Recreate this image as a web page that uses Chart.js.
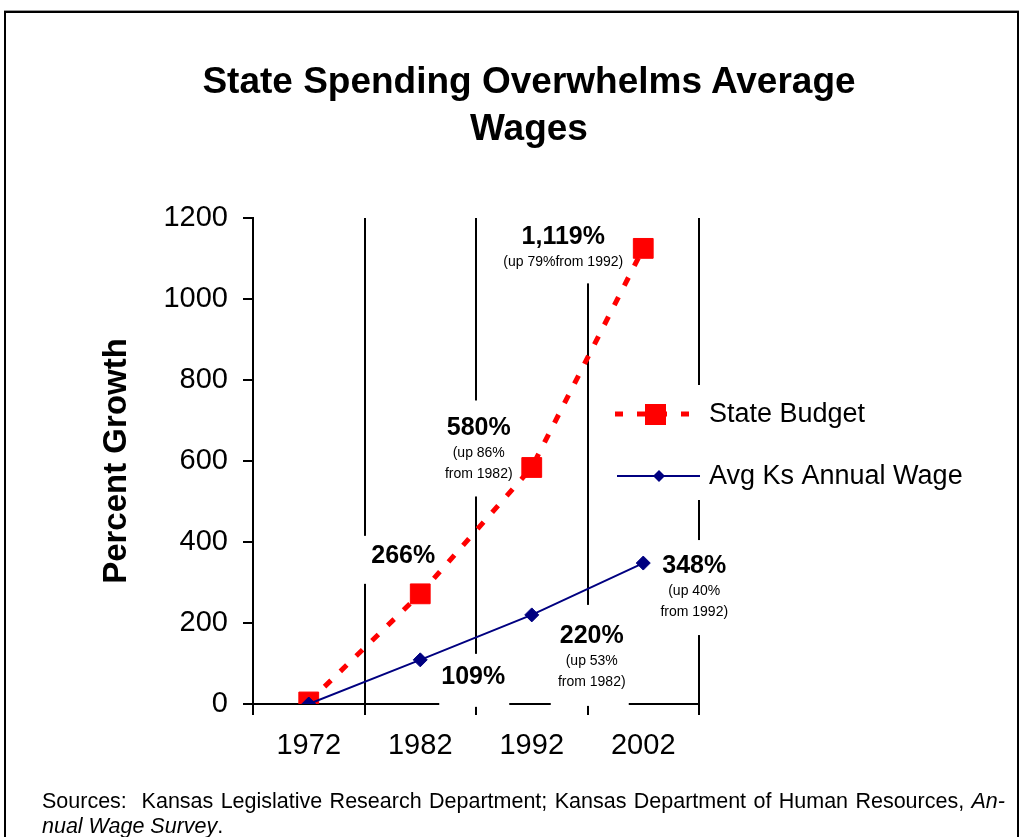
<!DOCTYPE html>
<html>
<head>
<meta charset="utf-8">
<script src="https://cdn.jsdelivr.net/npm/chart.js@4.4.1/dist/chart.umd.min.js"></script>
<style>
  body { margin: 0; background: #fff; font-family: "Liberation Sans", Arial, sans-serif; }
  #wrap { position: relative; width: 1022px; height: 837px; overflow: hidden; }
  #frame { position: absolute; left: 4px; top: 11px; width: 1011px; height: 900px; border: 2px solid #000; box-shadow: 0 -1px 0 #999; }
  #title { position: absolute; left: 0; width: 1058px; top: 57px; text-align: center; font-weight: bold; font-size: 37px; line-height: 47px; color: #000; }
  #src1 { position: absolute; left: 42px; width: 963px; top: 789px; font-size: 21.5px; text-align: justify; text-align-last: justify; color: #000; white-space: nowrap; }
  #src2 { position: absolute; left: 42px; top: 814px; font-size: 21.5px; color: #000; }
  canvas { position: absolute; left: 0; top: 0; }
</style>
</head>
<body>
<div id="wrap">
  <div id="frame"></div>
  <canvas id="myChart" width="1022" height="837"></canvas>
  <div id="title">State Spending Overwhelms Average<br>Wages</div>
  <div id="src1">Sources:&nbsp; Kansas Legislative Research Department; Kansas Department of Human Resources, <i>An-</i></div>
  <div id="src2"><i>nual Wage Survey</i>.</div>
</div>
<script>
// donnees
const years = ['1972', '1982', '1992', '2002'];
const stateBudget = [5, 272, 584, 1125];
const avgWage = [0, 109, 220, 348];
const yMin = 0, yMax = 1200, yStep = 200;

// etiquettes des points
const budgetLabels = ['', '266%', '580%', '1,119%'];
const budgetNotes = [[], [], ['(up 86%', 'from 1982)'], ['(up 79%from 1992)']];
const wageLabels = ['', '109%', '220%', '348%'];
const wageNotes = [[], [], ['(up 53%', 'from 1982)'], ['(up 40%', 'from 1992)']];

// placement des etiquettes par rapport au point (dx, dy du texte ; boite blanche x, y, w, h)
const notePlacement = [
  {ds: 0, i: 1, dx: -17, dy: -38, box: [-65, -58, 85, 48]},
  {ds: 0, i: 2, dx: -53, dy: -39, box: [-92, -67, 75, 96]},
  {ds: 0, i: 3, dx: -80, dy: -11, box: [-147, -34, 130, 69]},
  {ds: 1, i: 1, dx: 53, dy: 17, box: [19, -6, 70, 53]},
  {ds: 1, i: 2, dx: 60, dy: 21, box: [19, -10, 78, 101]},
  {ds: 1, i: 3, dx: 51, dy: 3, box: [11, -23, 80, 95]}
];

const annotations = {
  id: 'annotations',
  beforeDatasetsDraw(chart) {
    const ctx = chart.ctx;
    ctx.save();
    notePlacement.forEach(n => {
      const pt = chart.getDatasetMeta(n.ds).data[n.i];
      const label = n.ds === 0 ? budgetLabels[n.i] : wageLabels[n.i];
      const notes = n.ds === 0 ? budgetNotes[n.i] : wageNotes[n.i];
      ctx.fillStyle = '#fff';
      ctx.fillRect(pt.x + n.box[0], pt.y + n.box[1], n.box[2], n.box[3]);
      ctx.fillStyle = '#000';
      ctx.textAlign = 'center';
      ctx.textBaseline = 'middle';
      ctx.font = 'bold 25px "Liberation Sans", Arial, sans-serif';
      ctx.fillText(label, pt.x + n.dx, pt.y + n.dy);
      ctx.font = '14px "Liberation Sans", Arial, sans-serif';
      notes.forEach((t, k) => {
        ctx.fillText(t, pt.x + n.dx, pt.y + n.dy + 25 + k * 21);
      });
    });

    // legende dans le graphique
    ctx.fillStyle = '#fff';
    ctx.fillRect(600, 385, 400, 115);
    ctx.strokeStyle = '#ff0000';
    ctx.lineWidth = 5;
    ctx.setLineDash([8, 14]);
    ctx.beginPath();
    ctx.moveTo(615, 414);
    ctx.lineTo(694, 414);
    ctx.stroke();
    ctx.setLineDash([]);
    ctx.fillStyle = '#ff0000';
    ctx.fillRect(645, 404, 21, 21);
    ctx.strokeStyle = '#000080';
    ctx.lineWidth = 2;
    ctx.beginPath();
    ctx.moveTo(617, 476);
    ctx.lineTo(700, 476);
    ctx.stroke();
    ctx.fillStyle = '#000080';
    ctx.beginPath();
    ctx.moveTo(659, 470);
    ctx.lineTo(665, 476);
    ctx.lineTo(659, 482);
    ctx.lineTo(653, 476);
    ctx.closePath();
    ctx.fill();
    ctx.fillStyle = '#000';
    ctx.textAlign = 'left';
    ctx.textBaseline = 'middle';
    ctx.font = '27px "Liberation Sans", Arial, sans-serif';
    ctx.fillText('State Budget', 709, 415);
    ctx.fillText('Avg Ks Annual Wage', 709, 477);
    ctx.restore();
  }
};

const ctx = document.getElementById('myChart');
new Chart(ctx, {
  type: 'line',
  data: {
    labels: years,
    datasets: [{
      label: 'State Budget',
      data: stateBudget,
      borderColor: '#ff0000',
      backgroundColor: '#ff0000',
      borderWidth: 5,
      borderDash: [9, 13],
      pointStyle: 'rect',
      pointRadius: 14,
      pointBorderWidth: 1,
      tension: 0,
      order: 1
    }, {
      label: 'Avg Ks Annual Wage',
      data: avgWage,
      borderColor: '#000080',
      backgroundColor: '#000080',
      borderWidth: 2,
      pointStyle: 'rectRot',
      pointRadius: 7,
      pointBorderWidth: 1,
      tension: 0,
      order: 0
    }]
  },
  options: {
    responsive: false,
    animation: false,
    devicePixelRatio: 1,
    layout: { padding: { left: 0, top: 218, right: 323, bottom: 0 } },
    plugins: {
      legend: { display: false },
      tooltip: { enabled: false }
    },
    scales: {
      x: {
        offset: true,
        grid: { offset: true, color: '#000', lineWidth: 2, tickLength: 11, drawTicks: true },
        border: { display: true, color: '#000', width: 2 },
        ticks: { color: '#000', font: { size: 29, family: '"Liberation Sans", Arial' }, padding: 14 },
        afterFit(scale) { scale.height = 133; }
      },
      y: {
        min: yMin,
        max: yMax,
        ticks: {
          stepSize: yStep,
          color: '#000',
          font: { size: 29, family: '"Liberation Sans", Arial' },
          padding: 15,
          callback: v => String(v)
        },
        grid: { drawOnChartArea: false, drawTicks: true, tickLength: 10, color: '#000', lineWidth: 2 },
        border: { display: true, color: '#000', width: 2 },
        title: {
          display: true,
          text: 'Percent Growth',
          color: '#000',
          font: { size: 33, weight: 'bold', family: '"Liberation Sans", Arial' },
          padding: { top: 97, bottom: 0 }
        },
        afterFit(scale) { scale.width = 253; }
      }
    }
  },
  plugins: [annotations]
});
</script>
</body>
</html>
